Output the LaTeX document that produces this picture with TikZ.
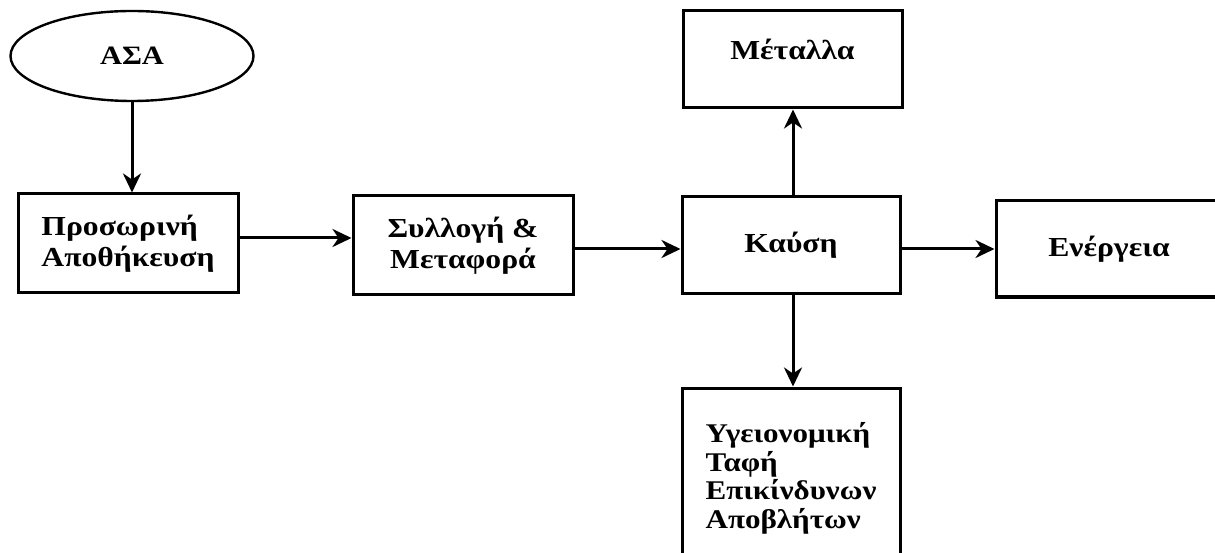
\documentclass[tikz,border=0pt]{standalone}
\usepackage{fontspec}
\setmainfont{Liberation Serif}[FakeStretch=1.15]
\usetikzlibrary{shapes.geometric,arrows.meta}

\begin{document}
\begin{tikzpicture}[x=1pt,y=-1pt,
  txt/.style={font=\bfseries\fontsize{27.5}{31}\selectfont, align=center},
  box/.style={txt, draw, line width=3pt, inner sep=0pt},
  flow/.style={line width=3pt, -{Stealth[length=19pt,width=18pt,inset=6pt]}}]
\useasboundingbox (0,0) rectangle (1215,553);
\clip (0,0) rectangle (1215,553);

% source
\node[ellipse, draw, line width=2.4pt, minimum width=243pt, minimum height=90pt,
      inner sep=0pt, font=\bfseries\fontsize{26.5}{30}\selectfont] (asa) at (132,56) {ΑΣΑ};

% main chain
\node[box, minimum width=220pt, minimum height=99pt, align=left] (prosw) at (128,243.5)
  {Προσωρινή\\Αποθήκευση};
\node[box, minimum width=220pt, minimum height=99pt] (syll) at (463,245.5)
  {Συλλογή \&\\Μεταφορά};
\node[box, minimum width=218pt, minimum height=97pt] (kafsi) at (791,245.5) {Καύση};
\node[box, minimum width=219pt, minimum height=97pt, text height=19pt, text depth=18pt]
  (metalla) at (792.5,59.5) {Μέταλλα};
\node[box, minimum width=226pt, minimum height=96pt] (energ) at (1109,249) {Ενέργεια};
\node[box, minimum width=218pt, minimum height=181pt, align=left,
      font=\bfseries\fontsize{27}{28.5}\selectfont] (tafi) at (791,478.5)
  {Υγειονομική\\Ταφή\\Επικίνδυνων\\Αποβλήτων};

% connectors
\draw[flow] (asa.south) -- (asa.south |- prosw.north);
\draw[flow] ([yshift=5.5pt]prosw.east) -- ([yshift=5.5pt]prosw.east -| syll.west);
\draw[flow] ([yshift=-3.5pt]syll.east) -- ([yshift=-3.5pt]syll.east -| kafsi.west);
\draw[flow] ([yshift=-3.5pt]kafsi.east) -- ([yshift=-3.5pt]kafsi.east -| energ.west);
\draw[flow] ([xshift=2pt]kafsi.north) -- ([xshift=2pt]kafsi.north |- metalla.south);
\draw[flow] ([xshift=2pt]kafsi.south) -- ([xshift=2pt]kafsi.south |- tafi.north);
\end{tikzpicture}
\end{document}
